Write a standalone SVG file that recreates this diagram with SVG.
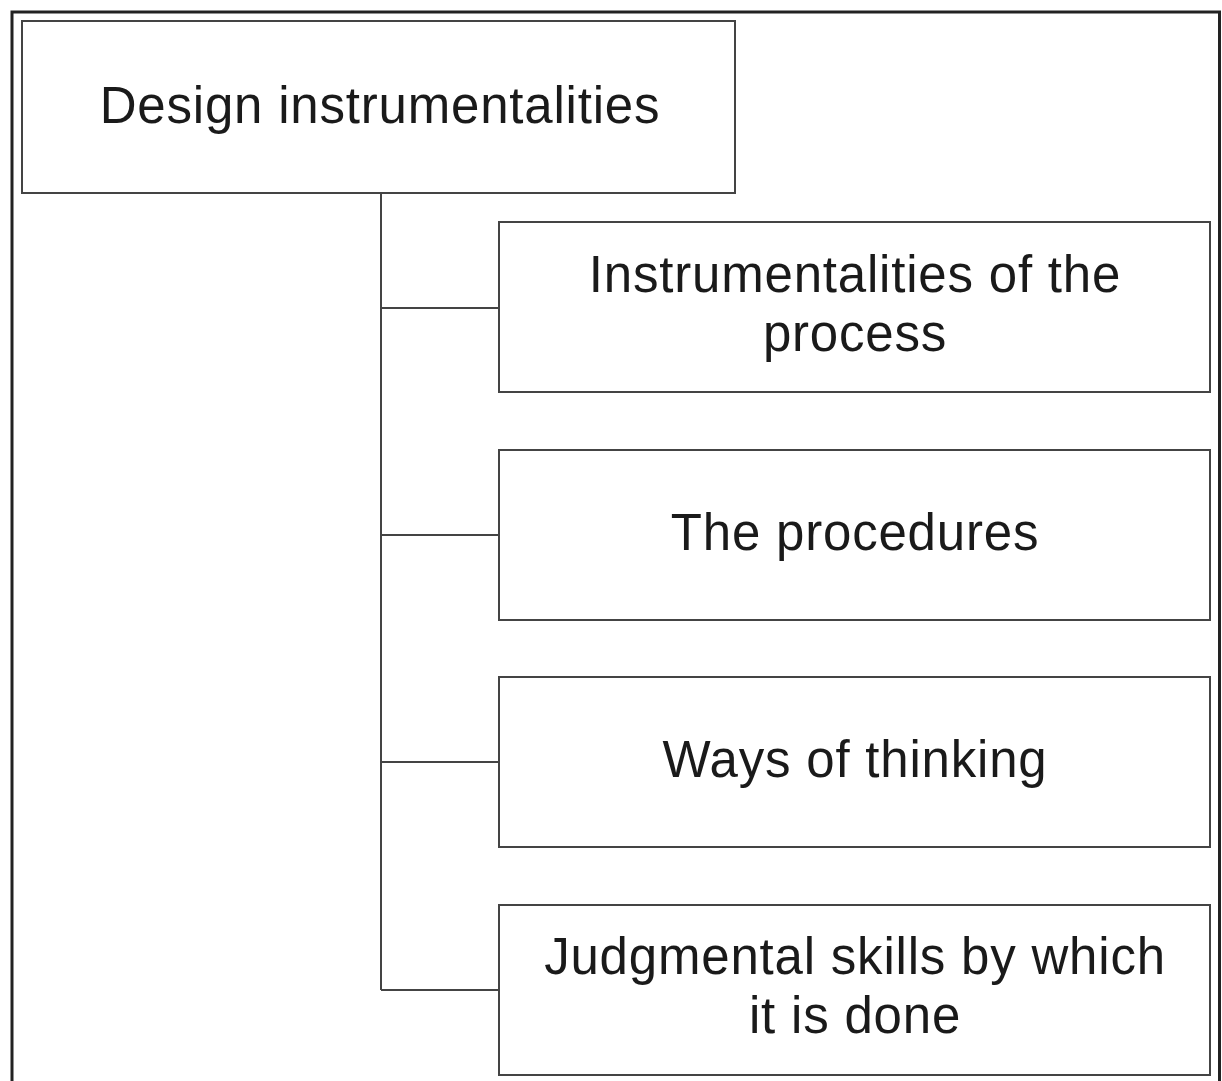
<svg xmlns="http://www.w3.org/2000/svg" width="1222" height="1081" viewBox="0 0 1222 1081">
<style>
.frame{fill:none;stroke:#222;stroke-width:3}
.box{fill:#fff;stroke:#444;stroke-width:2}
.conn{fill:none;stroke:#444;stroke-width:2}
text{font-family:"Liberation Sans",Arial,sans-serif;font-size:51px;letter-spacing:0.8px;fill:#1a1a1a;text-anchor:middle}
</style>
<rect width="1222" height="1081" fill="#fff"/>
<path class="frame" d="M12,1081 V12 H1219.5 V1081"/>
<g id="connectors">
<path class="conn" d="M381,193 V990"/>
<path class="conn" d="M381,308 H499"/>
<path class="conn" d="M381,535 H499"/>
<path class="conn" d="M381,762 H499"/>
<path class="conn" d="M381,990 H499"/>
</g>
<g id="root">
<rect class="box" x="22" y="21" width="713" height="172"/>
<text x="380" y="123">Design instrumentalities</text>
</g>
<g id="process">
<rect class="box" x="499" y="222" width="711" height="170"/>
<text x="855" y="292">Instrumentalities of the</text>
<text x="855" y="351">process</text>
</g>
<g id="procedures">
<rect class="box" x="499" y="450" width="711" height="170"/>
<text x="855" y="550">The procedures</text>
</g>
<g id="thinking">
<rect class="box" x="499" y="677" width="711" height="170"/>
<text x="855" y="777">Ways of thinking</text>
</g>
<g id="judgment">
<rect class="box" x="499" y="905" width="711" height="170"/>
<text x="855" y="974">Judgmental skills by which</text>
<text x="855" y="1033">it is done</text>
</g>
</svg>
